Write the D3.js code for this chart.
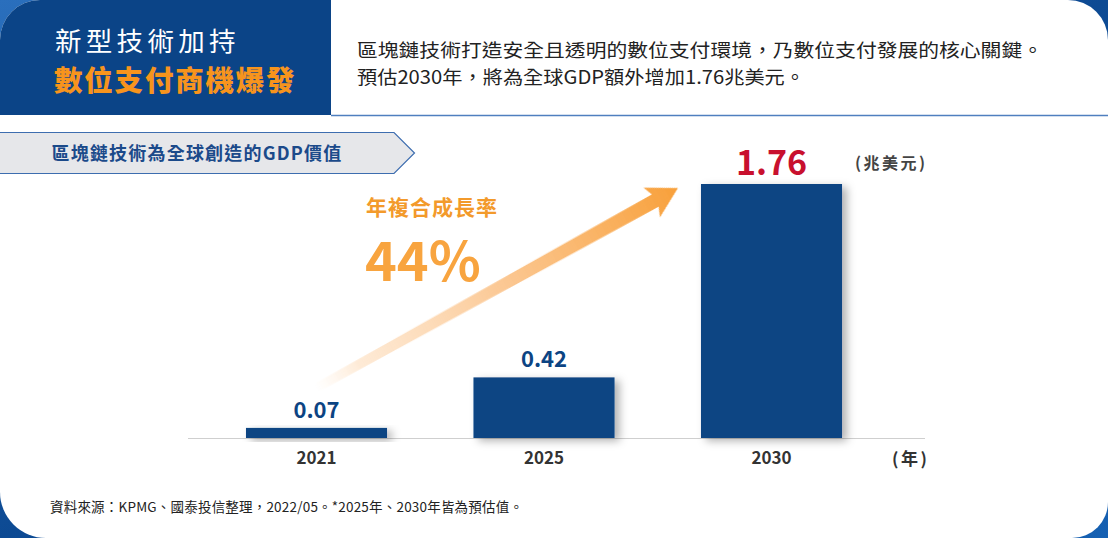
<!DOCTYPE html>
<html><head><meta charset="utf-8">
<script src="https://cdn.jsdelivr.net/npm/d3@7"></script>
<style>
html,body{margin:0;padding:0;background:#fff;}
svg{display:block;}
text{font-family:"Noto Sans CJK TC","Noto Sans",sans-serif;}
</style></head>
<body>
<svg id="chart" width="1108" height="538"></svg>
<script>
const categories = ["2021","2025","2030"];
const values = [0.07, 0.42, 1.76];
const valueLabels = ["0.07","0.42","1.76"];
const titleLine1 = "新型技術加持";
const titleLine2 = "數位支付商機爆發";
const descLines = ["區塊鏈技術打造安全且透明的數位支付環境，乃數位支付發展的核心關鍵。","預估2030年，將為全球GDP額外增加1.76兆美元。"];
const descWidths = [686, 448];
const sectionLabel = "區塊鏈技術為全球創造的GDP價值";
const unitLabel = "(兆美元)";
const yearLabel = "(年)";
const cagrLabel = "年複合成長率";
const cagrValue = "44%";
const footnote = "資料來源：KPMG、國泰投信整理，2022/05。*2025年、2030年皆為預估值。";

const svg = d3.select("#chart");
const W = 1108, H = 538;
const defs = svg.append("defs");

const bg = defs.append("linearGradient").attr("id","bgGrad").attr("x1","0").attr("y1","0").attr("x2","1").attr("y2","1");
bg.append("stop").attr("offset","0").attr("stop-color","#2a6fbd");
bg.append("stop").attr("offset","0.5").attr("stop-color","#0d4a93");
bg.append("stop").attr("offset","1").attr("stop-color","#1560b2");
svg.append("rect").attr("width",W).attr("height",H).attr("fill","url(#bgGrad)");

function roundedCard(x0,y0,x1,y1,rtl,rtr,rbr,rbl){
  const p = d3.path();
  p.moveTo(x0+rtl,y0);
  p.lineTo(x1-rtr,y0);
  p.arcTo(x1,y0,x1,y0+rtr,rtr);
  p.lineTo(x1,y1-rbr);
  p.arcTo(x1,y1,x1-rbr,y1,rbr);
  p.lineTo(x0+rbl,y1);
  p.arcTo(x0,y1,x0,y1-rbl,rbl);
  p.lineTo(x0,y0+rtl);
  p.arcTo(x0,y0,x0+rtl,y0,rtl);
  p.closePath();
  return p.toString();
}
svg.append("path").attr("d",roundedCard(0,0,W,H,40,40,36,46)).attr("fill","#ffffff");

const hdr = d3.path();
hdr.moveTo(40,0); hdr.lineTo(331,0); hdr.lineTo(331,115); hdr.lineTo(0,115); hdr.lineTo(0,40); hdr.arcTo(0,0,40,0,40); hdr.closePath();
svg.append("path").attr("d",hdr.toString()).attr("fill","#0b4487");
svg.append("line").attr("x1",331).attr("x2",W).attr("y1",115.5).attr("y2",115.5).attr("stroke","#4f7fbf").attr("stroke-width",1.5);

svg.append("text").attr("x",55).attr("y",50.5).attr("fill","#ffffff").attr("font-size",26.5).attr("letter-spacing",4.3).text(titleLine1);
svg.append("text").attr("x",54).attr("y",91).attr("fill","#f7941d").attr("font-size",28.5).attr("font-weight",900).attr("letter-spacing",1.8).text(titleLine2);

svg.selectAll("text.desc").data(descLines).join("text").attr("class","desc")
  .attr("x",357).attr("y",(d,i)=>57+i*27).attr("fill","#222").attr("font-size",18.5)
  .attr("textLength",(d,i)=>descWidths[i]).attr("lengthAdjust","spacingAndGlyphs").text(d=>d);

const lab = d3.path();
lab.moveTo(-1,132.5); lab.lineTo(394,132.5); lab.lineTo(414.5,153); lab.lineTo(394,173.5); lab.lineTo(-1,173.5); lab.closePath();
svg.append("path").attr("d",lab.toString()).attr("fill","#e6e7ea").attr("stroke","#3d6daf").attr("stroke-width",1.2);
svg.append("text").attr("x",197).attr("y",160).attr("text-anchor","middle").attr("fill","#1b4a8a")
  .attr("font-size",18).attr("font-weight",700).attr("letter-spacing",1.2).text(sectionLabel);

const x = d3.scaleBand().domain(categories).range([202.75,885.25]).paddingInner(0.38).paddingOuter(0.19);
const y = d3.scaleLinear().domain([0,1.76]).range([438,184]);

const f = defs.append("filter").attr("id","shadow").attr("x","-20%").attr("y","-20%").attr("width","150%").attr("height","150%");
f.append("feDropShadow").attr("dx",5).attr("dy",3).attr("stdDeviation",4).attr("flood-color","#000").attr("flood-opacity",0.3);

const axis = d3.axisBottom(x).tickSize(0).tickPadding(14);
const ag = svg.append("g").attr("transform",`translate(0,${y(0)})`).call(axis);
ag.select(".domain").remove();
ag.append("line").attr("x1",188).attr("x2",925).attr("y1",0.5).attr("y2",0.5).attr("stroke","#cfcfcf").attr("stroke-width",1);
ag.selectAll(".tick text").attr("font-family","'Liberation Sans',Arial,sans-serif").attr("font-size",17).attr("font-weight",700).attr("fill","#333");

// growth arrow annotation
const ax0 = x("2021")+x.bandwidth()*0.5, ay0 = y(values[0])-40;
const ax1 = x("2030")-23, ay1 = y(values[2])+4;
const L = Math.hypot(ax1-ax0, ay1-ay0);
const ang = Math.atan2(ay1-ay0, ax1-ax0)*180/Math.PI;
const ag2 = defs.append("linearGradient").attr("id","arrGrad").attr("gradientUnits","userSpaceOnUse").attr("x1",0).attr("y1",0).attr("x2",L).attr("y2",0);
ag2.append("stop").attr("offset","0").attr("stop-color","#fde3c8").attr("stop-opacity",0);
ag2.append("stop").attr("offset","0.12").attr("stop-color","#fddcba").attr("stop-opacity",0.6);
ag2.append("stop").attr("offset","0.5").attr("stop-color","#fbc38a").attr("stop-opacity",0.9);
ag2.append("stop").attr("offset","1").attr("stop-color","#f8a03a").attr("stop-opacity",1);
const blur = defs.append("filter").attr("id","soft").attr("x","-10%").attr("y","-50%").attr("width","120%").attr("height","200%");
blur.append("feGaussianBlur").attr("stdDeviation",0.6);
const arrow = svg.append("g").attr("transform",`translate(${ax0},${ay0}) rotate(${ang})`);
arrow.append("path").attr("fill","url(#arrGrad)").attr("filter","url(#soft)")
  .attr("d",`M0,-4.5 L${L-26},-7 L${L-30},-17 L${L},0 L${L-30},17 L${L-26},7 L0,4.5 Z`);

svg.append("text").attr("x",366).attr("y",215).attr("fill","#f39a2b").attr("font-size",21).attr("font-weight",700).attr("letter-spacing",1).text(cagrLabel);
svg.append("text").attr("x",365).attr("y",281).attr("fill","#f8a43f").attr("font-family","'Liberation Sans',Arial,sans-serif")
  .attr("font-size",54).attr("font-weight",700).text(cagrValue);

svg.selectAll("rect.bar").data(values).join("rect").attr("class","bar")
  .attr("x",(d,i)=>x(categories[i])).attr("width",x.bandwidth())
  .attr("y",d=>y(d)).attr("height",d=>y(0)-y(d))
  .attr("fill","#0c4483").attr("filter","url(#shadow)");

svg.selectAll("text.val").data(values).join("text").attr("class","val")
  .attr("x",(d,i)=>x(categories[i])+x.bandwidth()/2)
  .attr("y",(d,i)=> i===2 ? y(d)-9 : y(d)-10)
  .attr("text-anchor","middle")
  .attr("font-family","'Liberation Sans',Arial,sans-serif").attr("font-weight",700)
  .attr("font-size",(d,i)=> i===2 ? 34 : 22)
  .attr("fill",(d,i)=> i===2 ? "#c8102e" : "#0c4483")
  .text((d,i)=>valueLabels[i]);

svg.append("text").attr("x",855).attr("y",169).attr("fill","#444").attr("font-size",16).attr("font-weight",700).attr("letter-spacing",2.5).text(unitLabel);
svg.append("text").attr("x",892).attr("y",465).attr("fill","#333").attr("font-size",17).attr("font-weight",700).attr("letter-spacing",2.5).text(yearLabel);

svg.append("text").attr("x",50).attr("y",512).attr("fill","#222").attr("font-size",13.5).attr("letter-spacing",0.2).text(footnote);
</script>
</body></html>
